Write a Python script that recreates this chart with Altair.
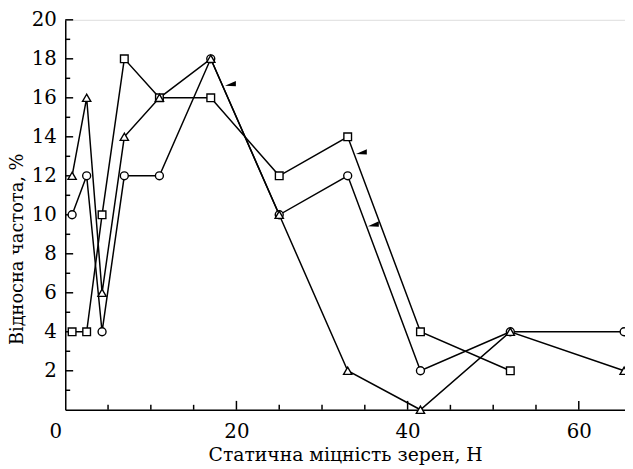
import altair as alt
import pandas as pd

# ---- data ----
x_vals = [0.8, 2.5, 4.3, 6.9, 11, 17, 25, 33, 41.5, 52, 65.3]
square_vals = [4, 4, 10, 18, 16, 16, 12, 14, 4, 2]
circle_vals = [10, 12, 4, 12, 12, 18, 10, 12, 2, 4, 4]
triangle_vals = [12, 16, 6, 14, 16, 18, 10, 2, 0, 4, 2]

flag_x = [19.3, 34.6, 36.0]
flag_y = [16.7, 13.2, 9.5]

x_major = [20, 40, 60]
x_minor = [5, 10, 15, 25, 30, 35, 45, 50, 55]
y_major = [2, 4, 6, 8, 10, 12, 14, 16, 18, 20]
y_minor = [1, 3, 5, 7, 9, 11, 13, 15, 17, 19]
x_labels = [0, 20, 40, 60]
y_labels = [2, 4, 6, 8, 10, 12, 14, 16, 18, 20]

rows = []
for name, vals in [("sq", square_vals), ("ci", circle_vals), ("tr", triangle_vals)]:
    for i, v in enumerate(vals):
        rows.append({"series": name, "x": x_vals[i], "y": v, "idx": i})
df = pd.DataFrame(rows)

FONT = "DejaVu Serif"
XMAX = 65.4
xs = alt.Scale(domain=[0, XMAX], nice=False, zero=False)
ys = alt.Scale(domain=[0, 20], nice=False, zero=False)

X = alt.X("x:Q", scale=xs,
          axis=alt.Axis(values=x_labels, ticks=False, grid=False, domain=True,
                        domainColor="black", domainWidth=1.5,
                        labelFont=FONT, labelFontSize=20, labelColor="black",
                        labelPadding=12, labelFlush=False,
                        labelOffset={"condition": {"test": "datum.value === 0", "value": -10}, "value": 0},
                        title="Статична міцність зерен, Н", titleFont=FONT,
                        titleFontSize=19, titleFontWeight="normal", titleColor="black",
                        titlePadding=4))
Y = alt.Y("y:Q", scale=ys,
          axis=alt.Axis(values=y_labels, ticks=False, grid=False, domain=True,
                        domainColor="black", domainWidth=1.5,
                        labelFont=FONT, labelFontSize=20, labelColor="black",
                        labelPadding=9, labelFlush=False,
                        title="Відносна частота,  %", titleFont=FONT,
                        titleFontSize=18, titleFontWeight="normal", titleColor="black",
                        titlePadding=5, titleY=232))

base = alt.Chart(df)

lines = base.mark_line(color="black", strokeWidth=1.5).encode(
    x=X, y=Y, detail="series:N", order="idx:Q")

order_map = {"ci": 0, "sq": 1, "tr": 2}
df["z"] = df["series"].map(order_map)
points = alt.Chart(df).mark_point(filled=True, fill="white", stroke="black",
                                  strokeWidth=1.4, opacity=1).encode(
    x=alt.X("x:Q", scale=xs),
    y=alt.Y("y:Q", scale=ys),
    shape=alt.Shape("series:N",
                    scale=alt.Scale(domain=["sq", "ci", "tr"],
                                    range=["square", "circle", "triangle-up"]),
                    legend=None),
    size=alt.Size("series:N",
                  scale=alt.Scale(domain=["sq", "ci", "tr"], range=[60, 70, 85]),
                  legend=None),
    order=alt.Order("z:Q"),
)

flags_df = pd.DataFrame({"x": flag_x, "y": flag_y})
flags = alt.Chart(flags_df).mark_point(
    shape="M -1 0.3 L 1 -0.6 L 1 0.4 Z", filled=True, color="black", size=121, opacity=1
).encode(x=alt.X("x:Q", scale=xs), y=alt.Y("y:Q", scale=ys))

x_ticks_major = alt.Chart(pd.DataFrame({"x": x_major})).mark_rule(
    color="black", strokeWidth=1.5).encode(
    x=alt.X("x:Q", scale=xs), y=alt.value(395), y2=alt.value(386))
x_ticks_minor = alt.Chart(pd.DataFrame({"x": x_minor})).mark_rule(
    color="black", strokeWidth=1.5).encode(
    x=alt.X("x:Q", scale=xs), y=alt.value(395), y2=alt.value(390))
y_ticks_major = alt.Chart(pd.DataFrame({"y": y_major})).mark_rule(
    color="black", strokeWidth=1.5).encode(
    y=alt.Y("y:Q", scale=ys), x=alt.value(0), x2=alt.value(8))
y_ticks_minor = alt.Chart(pd.DataFrame({"y": y_minor})).mark_rule(
    color="black", strokeWidth=1.5).encode(
    y=alt.Y("y:Q", scale=ys), x=alt.value(0), x2=alt.value(5))

chart = alt.layer(
    lines, x_ticks_major, x_ticks_minor, y_ticks_major, y_ticks_minor, points, flags
).properties(
    width=567, height=395,
    padding={"left": 58, "top": 9, "right": 0, "bottom": 55},
    autosize="none",
).configure_view(stroke=None).configure(background="white")

chart.save("out.html", embed_options={"renderer": "svg", "actions": False})
